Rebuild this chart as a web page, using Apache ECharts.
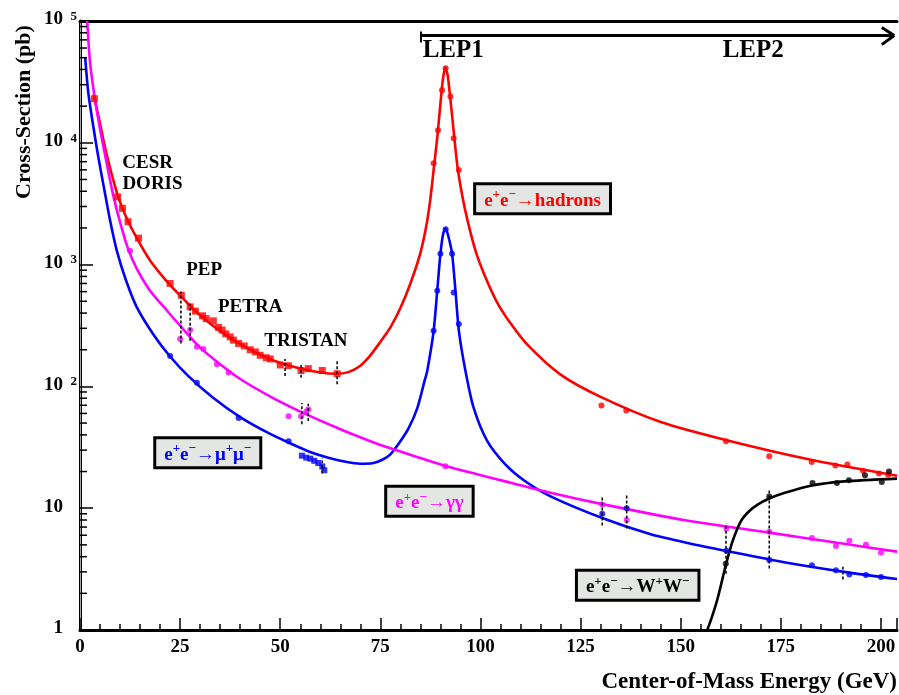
<!DOCTYPE html>
<html>
<head>
<meta charset="utf-8">
<script src="https://cdn.jsdelivr.net/npm/echarts@6/dist/echarts.min.js"></script>
<style>
html, body { margin: 0; padding: 0; background: #fff; }
#chart { width: 899px; height: 695px; }
</style>
</head>
<body>
<div id="chart"></div>
<script>
// theory curves, [energy (GeV), cross-section (pb)]
var hadronCurve = [
  [3.4, 25000], [4.2, 19000], [5, 14500], [6, 10000], [7.1, 7000], [8.3, 4950],
  [9.6, 3550], [11.7, 2380], [14.2, 1650], [17.5, 1080], [22.1, 700], [25.4, 540],
  [29.2, 405], [35.8, 272], [41.7, 207], [48.3, 163], [55, 140], [60, 130],
  [64, 127], [67, 131], [70, 148], [72.5, 180], [75, 232], [77.5, 305],
  [80, 440], [82.5, 700], [85, 1250], [86.5, 2100], [87.5, 3500], [88.3, 6000],
  [89.2, 11000], [90, 21000], [90.6, 33000], [91.2, 41500], [91.8, 36000],
  [92.5, 22500], [93.3, 12500], [94.3, 6200], [95.5, 3600], [96.7, 2350],
  [98.75, 1300], [101, 820], [104, 500], [107.5, 330], [112, 215], [120, 125],
  [130, 82], [145, 51], [161.7, 36], [182.5, 25], [204, 18.5]
];
var muCurve = [
  [1.3, 50000], [2.08, 25600], [3.33, 13600], [4.58, 7600], [6.25, 3840],
  [7.5, 2310], [9.17, 1310], [11.5, 740], [14.2, 446], [18.5, 262], [22.5, 176],
  [27, 122], [33, 82], [40, 56], [47, 41.5], [53, 33.5], [58, 28.5], [62, 26],
  [66, 24.2], [70, 23.2], [73, 23.4], [75.5, 25], [77.5, 27.7], [80, 35.5],
  [82, 45], [84.2, 66], [86, 110], [86.7, 134], [88.3, 286], [89.2, 610],
  [90, 1230], [90.7, 1800], [91.3, 1980], [91.9, 1750], [92.9, 1230],
  [93.75, 610], [94.6, 286], [96.25, 134], [98.3, 66.5], [101.7, 35.5],
  [106.25, 22.8], [111, 16.8], [117.5, 12.5], [130.4, 8.3], [142.5, 6.1],
  [152, 5.15], [161.4, 4.45], [175.8, 3.6], [190.8, 3.0], [204, 2.62]
];
var gammaCurve = [
  [1.8, 100000], [2.5, 46000], [3.75, 22600], [5, 13000], [6.7, 6700], [8.3, 3700],
  [10.4, 2000], [12.1, 1320], [14.2, 923], [17.5, 610], [21.7, 420], [25, 315],
  [30, 208], [35, 152], [40, 115], [48, 81], [56, 60], [65, 44.5], [72.5, 35.5],
  [77.5, 31], [85, 25.8], [91.25, 22.2], [105, 17.0], [117.5, 13.4],
  [130.4, 10.8], [150.8, 8.0], [172.1, 6.3], [190.8, 5.1], [204, 4.4]
];
var wwCurve = [
  [155.8, 0.85], [157.5, 1.2], [159.2, 1.81], [161.25, 3.4], [162.9, 5.3],
  [165, 7.8], [167, 9.4], [169.2, 10.7], [172.1, 12.0], [175.8, 13.3],
  [182.5, 15.3], [190.8, 16.6], [204, 17.5]
];

// measurements
var hadronLowPts = [
  [3.6, 23000], [9.4, 3600], [10.6, 2900], [12.0, 2250], [14.6, 1650], [22.5, 700],
  [25.3, 560], [27.5, 450], [28.8, 415], [30.6, 380], [31.5, 360], [33.3, 345],
  [34.6, 305], [35.5, 290], [36.4, 270], [37.5, 255], [38.3, 240], [39.6, 225],
  [41, 215], [42.5, 200], [43.8, 192], [45, 180], [46.5, 172], [47.5, 168],
  [50, 150], [52, 148], [55.2, 135], [57, 140], [60.5, 135], [64.2, 127]
];
var hadronLepPts = [
  [88.3, 6800], [89.4, 12700], [90.4, 27000], [91.3, 41000], [92.5, 24000],
  [93.3, 10900], [94.6, 5970], [130.2, 69.8], [136.4, 63.5], [161.3, 35.5],
  [172.1, 26.7], [182.7, 23.9], [188.6, 22.4], [191.6, 22.8], [195.5, 20.3],
  [199.5, 19.3], [201.8, 18.8]
];
var muPts = [
  [22.5, 178], [29.2, 107], [39.6, 55], [52.1, 35.5], [88.3, 286], [89.2, 610],
  [90, 1230], [91.3, 1950], [92.9, 1230], [93.3, 590], [94.6, 325], [130.4, 9.0],
  [136.5, 10], [161.4, 4.47], [172.1, 3.76], [182.75, 3.4], [188.75, 3.1],
  [192.1, 2.86], [196.25, 2.83], [200, 2.73]
];
var muSquarePts = [
  [55.4, 27], [56.5, 26], [57.5, 25.5], [58.5, 24.5], [59.5, 23.5], [60.5, 22], [61, 20.5]
];
var gammaPts = [
  [12.5, 1300], [25, 245], [27.5, 290], [29.2, 212], [30.8, 203], [34.2, 152],
  [37.1, 130], [52.1, 57], [55.2, 57], [56.5, 62], [57, 65], [91.25, 22.1],
  [130.4, 10.7], [136.5, 8.0], [161.4, 6.8], [172.1, 6.4], [182.75, 5.7],
  [188.75, 4.9], [192.1, 5.4], [196.25, 5.0], [200, 4.3]
];
var wwPts = [
  [161.25, 3.5], [172.1, 12.5], [182.9, 16.1], [189, 16.1], [192, 17],
  [196, 18.6], [200.2, 16.4], [202, 20]
];
// [energy, low, high]
var errorBars = [
  [25.2, 225, 600], [27.5, 237, 478], [51.2, 122, 168], [55.2, 118, 150],
  [64.2, 104, 162], [55.4, 49, 73], [57, 52, 72], [60.5, 19.3, 25.8],
  [130.4, 7.2, 12.5], [136.5, 6.8, 13], [161.3, 2.9, 7.5], [172.1, 3.2, 14],
  [190.5, 2.6, 3.3]
];

var yMinorTicks = [];
[1, 10, 100, 1000, 10000].forEach(function (d) {
  for (var m = 2; m <= 9; m++) yMinorTicks.push([0, m * d]);
});

var serif = "Liberation Serif";
var chart = echarts.init(document.getElementById("chart"));

function textNote(text, coord, size) {
  return {
    coord: coord,
    label: {
      show: true, position: "inside", formatter: text,
      fontFamily: serif, fontWeight: "bold", fontSize: size, color: "#000"
    }
  };
}

function boxNote(text, coord, color) {
  return {
    coord: coord,
    label: {
      show: true, position: "inside", formatter: text,
      backgroundColor: "#e3e6e3", borderColor: "#000", borderWidth: 3,
      padding: [3, 8, 2, 8],
      rich: {
        b: { fontFamily: serif, fontWeight: "bold", fontSize: 19, color: color, lineHeight: 22, verticalAlign: "bottom" },
        s: { fontFamily: serif, fontWeight: "bold", fontSize: 13, color: color, lineHeight: 13, verticalAlign: "top" }
      }
    }
  };
}

function curve(name, data, color) {
  return {
    name: name, type: "line", data: data, showSymbol: false,
    smooth: 0.25,
    lineStyle: { color: color, width: 2.6 }, z: 2
  };
}

function points(data, color, symbol, size) {
  return {
    type: "scatter", data: data, symbol: symbol, symbolSize: size,
    itemStyle: { color: color }, z: 4
  };
}

chart.setOption({
  animation: false,
  grid: { left: 80, right: 2, top: 21, bottom: 65 },
  xAxis: [
    {
      type: "value", min: 0, max: 204, interval: 25,
      axisLine: { lineStyle: { color: "#000", width: 3 } },
      axisTick: { inside: true, length: 12, lineStyle: { color: "#000", width: 1.5 } },
      minorTick: { show: true, splitNumber: 5, length: 6, lineStyle: { color: "#000", width: 1.5 } },
      splitLine: { show: false },
      axisLabel: {
        showMaxLabel: false, margin: 8,
        fontFamily: serif, fontWeight: "bold", fontSize: 19, color: "#000"
      }
    },
    {
      type: "value", position: "top", min: 0, max: 204,
      axisLine: { lineStyle: { color: "#000", width: 3 } },
      axisTick: { show: false }, axisLabel: { show: false }, splitLine: { show: false }
    }
  ],
  yAxis: [
    {
      type: "log", logBase: 10, min: 1, max: 100000,
      axisLine: { lineStyle: { color: "#000", width: 3 } },
      axisTick: { inside: true, length: 13, lineStyle: { color: "#000", width: 1.5 } },
      splitLine: { show: false },
      axisLabel: {
        margin: 3, padding: [0, 0, 3, 0],
        formatter: function (v) {
          var k = Math.round(Math.log10(v));
          if (k === 0) return "{b|1}{s| }";
          if (k === 1) return "{b|10}{s| }";
          return "{b|10}{s|" + k + "}";
        },
        rich: {
          b: { fontFamily: serif, fontWeight: "bold", fontSize: 19, color: "#000", lineHeight: 19, padding: [3, 0, 0, 0], verticalAlign: "bottom" },
          s: { fontFamily: serif, fontWeight: "bold", fontSize: 13, color: "#000", lineHeight: 13, width: 14, align: "right", verticalAlign: "top" }
        }
      }
    },
    {
      type: "log", logBase: 10, min: 1, max: 100000, position: "right",
      axisLine: { lineStyle: { color: "#a8a8a8", width: 1 } },
      axisTick: { show: false }, axisLabel: { show: false }, splitLine: { show: false }
    }
  ],
  graphic: [
    {
      type: "text", x: 24, y: 112, rotation: Math.PI / 2,
      style: {
        text: "Cross-Section (pb)", fill: "#000", align: "center", verticalAlign: "middle",
        font: "bold 22px 'Liberation Serif'"
      }
    },
    {
      type: "text", x: 897, y: 682,
      style: {
        text: "Center-of-Mass Energy (GeV)", fill: "#000", align: "right", verticalAlign: "middle",
        font: "bold 23px 'Liberation Serif'"
      }
    }
  ],
  series: [
    curve("hadrons", hadronCurve, "#ff0000"),
    curve("mumu", muCurve, "#0000ff"),
    curve("gammagamma", gammaCurve, "#ff00ff"),
    {
      name: "WW", type: "line", data: wwCurve, showSymbol: false,
      smooth: 0.25,
      lineStyle: { color: "#000", width: 2.6 }, z: 2,
      markLine: {
        silent: true, symbol: ["none", "none"], label: { show: false },
        lineStyle: { color: "#000", width: 3, type: "solid" },
        data: [
          [{ coord: [85, 75900] }, { coord: [203.3, 75900] }],
          [{ coord: [85, 82000], lineStyle: { width: 2 } }, { coord: [85, 66500] }],
          [{ coord: [200.2, 88400] }, { coord: [203.3, 75900] }],
          [{ coord: [200.2, 64000] }, { coord: [203.3, 75900] }]
        ]
      },
      markPoint: {
        silent: true, symbol: "circle", symbolSize: 0,
        data: [
          textNote("LEP1", [93.2, 57700], 25),
          textNote("LEP2", [168.1, 57700], 25),
          textNote("CESR", [16.9, 6800], 19),
          textNote("DORIS", [18.1, 4570], 19),
          textNote("PEP", [31, 903], 19),
          textNote("PETRA", [42.5, 447], 19),
          textNote("TRISTAN", [56.4, 237], 19),
          boxNote("{b|e}{s|+}{b|e}{s|\u2212}{b|\u2192hadrons}", [115.5, 3470], "#ff0000"),
          boxNote("{b|e}{s|+}{b|e}{s|\u2212}{b|\u2192\u03bc}{s|+}{b|\u03bc}{s|\u2212}", [31.9, 28.5], "#0000ff"),
          boxNote("{b|e}{s|+}{b|e}{s|\u2212}{b|\u2192\u03b3\u03b3}", [87.25, 11.4], "#ff00ff"),
          boxNote("{b|e}{s|+}{b|e}{s|\u2212}{b|\u2192W}{s|+}{b|W}{s|\u2212}", [139.25, 2.33], "#000")
        ]
      }
    },
    points(hadronLowPts, "#ff0000", "rect", 7),
    points(hadronLepPts, "#ff0000", "circle", 6),
    points(muPts, "#0000ff", "circle", 6),
    points(muSquarePts, "#0000ff", "rect", 6),
    points(gammaPts, "#ff00ff", "circle", 6),
    points(wwPts, "#000", "circle", 6),
    {
      type: "custom", data: errorBars, encode: { x: 0, y: [1, 2] }, z: 5, silent: true,
      renderItem: function (params, api) {
        var lo = api.coord([api.value(0), api.value(1)]);
        var hi = api.coord([api.value(0), api.value(2)]);
        return {
          type: "line",
          shape: { x1: lo[0], y1: lo[1], x2: hi[0], y2: hi[1] },
          style: { stroke: "#000", lineWidth: 1.5, lineDash: [3, 2] }
        };
      }
    },
    {
      type: "custom", data: yMinorTicks, encode: { x: 0, y: 1 }, z: 5, silent: true,
      renderItem: function (params, api) {
        var p = api.coord([0, api.value(1)]);
        return {
          type: "line",
          shape: { x1: p[0], y1: p[1], x2: p[0] + 7, y2: p[1] },
          style: { stroke: "#000", lineWidth: 1.5 }
        };
      }
    }
  ]
});
</script>
</body>
</html>
